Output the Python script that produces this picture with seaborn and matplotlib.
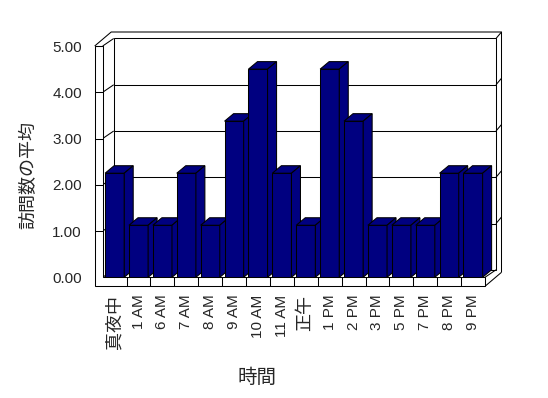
import matplotlib
matplotlib.use("Agg")
import matplotlib.pyplot as plt
from matplotlib.patches import Polygon
import seaborn as sns
import pandas as pd

# ---------------------------------------------------------------------------
hours = ['真夜中', '1 AM', '6 AM', '7 AM', '8 AM', '9 AM', '10 AM', '11 AM',
         '正午', '1 PM', '2 PM', '3 PM', '5 PM', '7 PM', '8 PM', '9 PM']
visits = [2.25, 1.125, 1.125, 2.25, 1.125, 3.375, 4.5, 2.25,
          1.125, 4.5, 3.375, 1.125, 1.125, 1.125, 2.25, 2.25]
y_ticks = [0, 1, 2, 3, 4, 5]
y_tick_labels = [f"{v:.2f}" for v in y_ticks]

bar_color = '#000080'
# ---------------------------------------------------------------------------

sns.set_style("white")
plt.rcParams['font.family'] = ['Liberation Sans', 'Noto Sans CJK JP', 'DejaVu Sans']

df = pd.DataFrame({'hour': hours, 'visits': visits})

fig = plt.figure(figsize=(5.48, 3.98), dpi=100)
ax = fig.add_axes([102.7 / 548, (398 - 277.3) / 398, 382.3 / 548, 231.3 / 398])

sns.barplot(data=df, x='hour', y='visits', order=hours, color=bar_color,
            saturation=1, width=0.8, edgecolor='black', linewidth=0.75, ax=ax)

x0, x1 = -0.5, len(hours) - 0.5
ymax = y_ticks[-1]
ax.set_xlim(x0, x1)
ax.set_ylim(0, ymax)

# pixel -> data helpers for the fake 3D frame
bb = ax.get_window_extent()
cat_px = bb.width / len(hours)
unit_px = bb.height / ymax


def px(dx, dy):
    return dx / cat_px, dy / unit_px


Dx, Dy = px(11, 7.5)     # back wall inner face
Ox, Oy = px(16.5, 14)    # back wall outer face
Bx, By = px(9, 7.5)      # bar depth
Wx, _ = px(8, 0)         # left wall thickness
_, Fy = px(0, 9)         # floor thickness

LW = 0.75


def line(xs, ys, z):
    ax.plot(xs, ys, color='black', lw=LW, clip_on=False, zorder=z,
            solid_capstyle='butt')


def poly(pts, fc, z):
    ax.add_patch(Polygon(pts, closed=True, fc=fc, ec='black', lw=LW,
                         clip_on=False, zorder=z, joinstyle='miter'))


# back wall with grid
poly([(x0 + Dx, Dy), (x1 + Dx, Dy), (x1 + Dx, ymax + Dy), (x0 + Dx, ymax + Dy)], 'white', 1)
for y in y_ticks[1:-1]:
    line([x0 + Dx, x1 + Dx], [y + Dy, y + Dy], 1.1)
for y in y_ticks:
    line([x0, x0 + Dx], [y, y + Dy], 1.1)
for y in y_ticks[1:]:
    line([x1 + Dx, x1 + Ox], [y + Dy, y + Oy], 1.1)

# outer edges of the walls
line([x0 - Wx, x0 - Wx + Ox, x1 + Ox, x1 + Ox],
     [ymax, ymax + Oy, ymax + Oy, -Fy + Oy], 1.1)
line([x1, x1 + Dx], [0, Dy], 1.1)
line([x1, x1 + Ox], [-Fy, -Fy + Oy], 1.1)

# left wall + floor front face
poly([(x0 - Wx, ymax), (x0, ymax), (x0, 0), (x1, 0), (x1, -Fy), (x0 - Wx, -Fy)], 'white', 2)
for i in range(1, len(hours)):
    line([i - 0.5, i - 0.5], [-Fy, 0], 2.1)
for y in y_ticks[1:]:
    line([x0 - Wx, x0], [y, y], 2.1)

# bars: front from seaborn, top and side faces added
for i, p in enumerate(ax.patches[:len(hours)]):
    z = 3 + i
    p.set_zorder(z)
    bx, bw, bh = p.get_x(), p.get_width(), p.get_height()
    poly([(bx, bh), (bx + bw, bh), (bx + bw + Bx, bh + By), (bx + Bx, bh + By)], bar_color, z)
    poly([(bx + bw, 0), (bx + bw + Bx, By), (bx + bw + Bx, bh + By), (bx + bw, bh)], bar_color, z)

sns.despine(ax=ax, left=True, bottom=True)
ax.set_yticks(y_ticks)
ax.set_yticklabels(y_tick_labels, fontsize=11)
ax.tick_params(axis='y', length=0, pad=15)
ax.tick_params(axis='x', length=0, pad=12.5)
ax.set_xticks(range(len(hours)))
ax.set_xticklabels(hours, rotation=90, fontsize=11)
for lab in ax.get_xticklabels():
    if not lab.get_text().isascii():
        lab.set_fontsize(13)

ax.set_xlabel('時間', fontsize=14)
ax.set_ylabel('訪問数の平均', fontsize=13)
ax.xaxis.set_label_coords(0.403, -0.433)
ax.xaxis.label.set_va('center')
ax.yaxis.set_label_coords(-0.193, 0.444)
ax.yaxis.label.set_va('center')
ax.patch.set_visible(False)

plt.savefig('out.png', dpi=100)
